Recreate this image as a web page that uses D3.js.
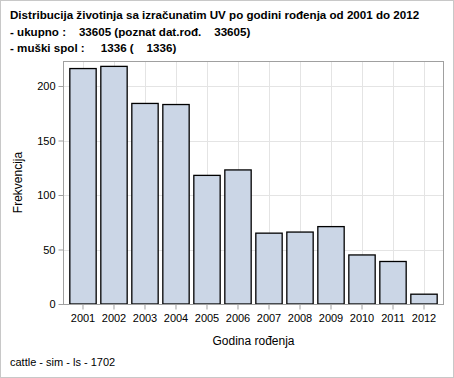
<!DOCTYPE html>
<html><head><meta charset="utf-8">
<script src="https://cdn.jsdelivr.net/npm/d3@7"></script>
<style>body{margin:0;background:#fff;} svg{display:block;font-family:"Liberation Sans",Arial,sans-serif;}</style>
</head><body>
<script>
const years = ["2001","2002","2003","2004","2005","2006","2007","2008","2009","2010","2011","2012"];
const counts = [216, 218, 184, 183, 118, 123, 65, 66, 71, 45, 39, 9];
const yTicks = [0, 50, 100, 150, 200];
const titleLines = [
  "Distribucija životinja sa izračunatim UV po godini rođenja od 2001 do 2012",
  "- ukupno :    33605 (poznat dat.rođ.    33605)",
  "- muški spol :     1336 (    1336)"
];
const xLabel = "Godina rođenja";
const yLabel = "Frekvencija";
const footnote = "cattle - sim - ls - 1702";

const W = 454, H = 378;
const m = {left: 63, right: 10, top: 61, bottom: 74};
const svg = d3.select("body").append("svg").attr("width", W).attr("height", H);
svg.append("rect").attr("x",0.5).attr("y",0.5).attr("width",W-1).attr("height",H-1)
  .attr("fill","#fff").attr("stroke","#c8c8c8");

const x = d3.scaleBand().domain(years).range([m.left, W - m.right]).paddingInner(0.15).paddingOuter(0.22);
const y = d3.scaleLinear().domain([0, 222]).range([H - m.bottom, H - m.bottom - 222*1.09]);
const plotTop = m.top, plotBottom = H - m.bottom;

// gridlines
const g = svg.append("g");
g.selectAll("line.hg").data(yTicks).join("line")
  .attr("x1", m.left).attr("x2", W - m.right)
  .attr("y1", d => Math.round(y(d))+0.5).attr("y2", d => Math.round(y(d))+0.5)
  .attr("stroke", "#e4e4e4");
g.selectAll("line.vg").data(years).join("line")
  .attr("y1", plotTop).attr("y2", plotBottom)
  .attr("x1", d => Math.round(x(d)+x.bandwidth()/2)+0.5).attr("x2", d => Math.round(x(d)+x.bandwidth()/2)+0.5)
  .attr("stroke", "#e4e4e4");

// bars
svg.selectAll("rect.bar").data(years).join("rect")
  .attr("x", d => x(d)).attr("width", x.bandwidth())
  .attr("y", (d,i) => y(counts[i])).attr("height", (d,i) => y(0) - y(counts[i]))
  .attr("fill", "#cbd6e6").attr("stroke", "#000").attr("stroke-width", 1.3);

// frame
svg.append("rect").attr("x", m.left+0.5).attr("y", plotTop+0.5)
  .attr("width", W - m.right - m.left - 1).attr("height", plotBottom - plotTop)
  .attr("fill","none").attr("stroke","#a0a0a0");

// axes
const yAxis = svg.append("g").attr("transform", `translate(${m.left+0.5},0)`)
  .call(d3.axisLeft(y).tickValues(yTicks).tickSize(5).tickSizeOuter(0));
const xAxis = svg.append("g").attr("transform", `translate(0,${plotBottom+0.5})`)
  .call(d3.axisBottom(x).tickSize(5).tickSizeOuter(0));
[yAxis, xAxis].forEach(a => {
  a.select(".domain").remove();
  a.selectAll(".tick line").attr("stroke", "#a0a0a0");
  a.selectAll(".tick text").attr("fill", "#000").style("font-size", "11px")
    .style("font-family", '"Liberation Sans",Arial,sans-serif');
});
yAxis.selectAll(".tick text").attr("x", -8);
xAxis.selectAll(".tick text").attr("y", 10);

// titles
svg.selectAll("text.title").data(titleLines).join("text")
  .attr("x", 10).attr("y", (d,i) => 19 + i*16.5)
  .attr("font-weight", "bold").attr("font-size", "11.6px")
  .style("white-space", "pre").attr("xml:space","preserve")
  .text(d => d);

svg.append("text").attr("x", (m.left + W - m.right)/2).attr("y", 345)
  .attr("text-anchor", "middle").attr("font-size", "12px").text(xLabel);
svg.append("text").attr("transform", `translate(22,${(plotTop+plotBottom)/2}) rotate(-90)`)
  .attr("text-anchor", "middle").attr("font-size", "12px").text(yLabel);
svg.append("text").attr("x", 10).attr("y", 366).attr("font-size", "11px").text(footnote);
</script>
</body></html>
